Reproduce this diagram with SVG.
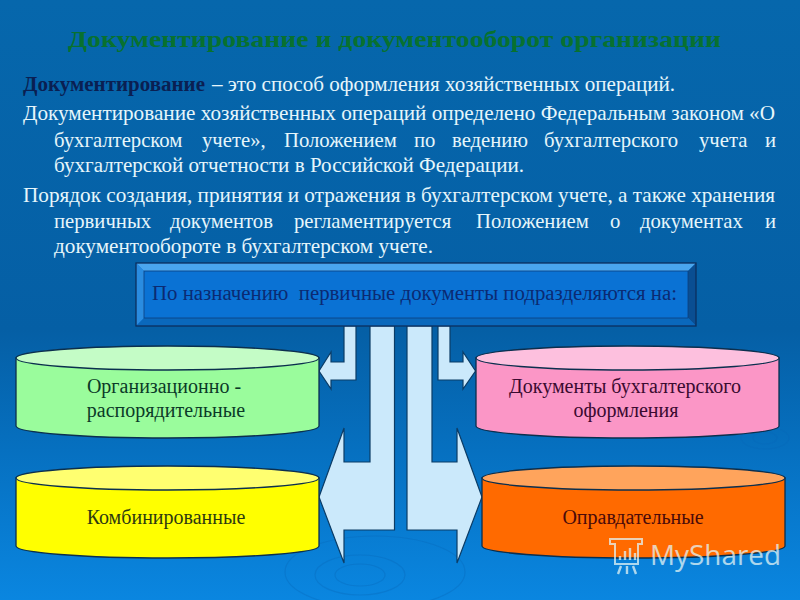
<svg xmlns="http://www.w3.org/2000/svg" width="800" height="600" viewBox="0 0 800 600">
<style>
text{font-family:"Liberation Serif","Times New Roman",serif}
.b{font-size:20.7px;fill:#e6f6fb}
.c{font-size:20px;text-anchor:middle}
.bd{stroke:#0b2f4e;stroke-width:1.3}
.ar{fill:#cbe9fb;stroke:#0b3c66;stroke-width:1.2;stroke-linejoin:miter}
.rp{fill:none;stroke:#0a68b8;stroke-width:1.2;opacity:.35}
</style>
<defs>
<linearGradient id="bg" x1="0" y1="0" x2="0" y2="1">
<stop offset="0" stop-color="#0667ac"/><stop offset=".55" stop-color="#055fa5"/><stop offset=".75" stop-color="#0670c0"/><stop offset="1" stop-color="#0a86e0"/>
</linearGradient>
</defs>
<rect width="800" height="600" fill="url(#bg)"/>
<g id="ripples">
<ellipse class="rp" cx="360" cy="575" rx="45" ry="20"/><ellipse class="rp" cx="360" cy="575" rx="25" ry="11"/><ellipse class="rp" cx="375" cy="572" rx="90" ry="36"/>
<ellipse class="rp" cx="765" cy="438" rx="24" ry="11"/><ellipse class="rp" cx="765" cy="438" rx="12" ry="6"/>
</g>
<text x="68" y="47" font-size="24" font-weight="bold" fill="#08712f" textLength="653" lengthAdjust="spacingAndGlyphs">Документирование и документооборот организации</text>
<g id="body-text">
<text x="23" y="91" font-size="20.5" font-weight="bold" fill="#0a1f52" textLength="182" lengthAdjust="spacingAndGlyphs">Документирование</text>
<text class="b" x="212" y="91" textLength="463" lengthAdjust="spacingAndGlyphs">– это способ оформления хозяйственных операций.</text>
<text class="b" x="23" y="120" textLength="752" lengthAdjust="spacingAndGlyphs">Документирование хозяйственных операций определено Федеральным законом «О</text>
<text class="b" y="147"><tspan x="54">бухгалтерском</tspan><tspan x="202">учете»,</tspan><tspan x="284">Положением</tspan><tspan x="414">по</tspan><tspan x="452">ведению</tspan><tspan x="544">бухгалтерского</tspan><tspan x="699">учета</tspan><tspan x="765">и</tspan></text>
<text class="b" x="54" y="172" textLength="470" lengthAdjust="spacingAndGlyphs">бухгалтерской отчетности в Российской Федерации.</text>
<text class="b" x="23" y="202" textLength="752" lengthAdjust="spacingAndGlyphs">Порядок создания, принятия и отражения в бухгалтерском учете, а также хранения</text>
<text class="b" y="228"><tspan x="54">первичных</tspan><tspan x="170">документов</tspan><tspan x="294">регламентируется</tspan><tspan x="476">Положением</tspan><tspan x="610">о</tspan><tspan x="640">документах</tspan><tspan x="765">и</tspan></text>
<text class="b" x="54" y="253" textLength="379" lengthAdjust="spacingAndGlyphs">документообороте в бухгалтерском учете.</text>
</g>
<g id="connectors">
<path class="ar" d="M356 326V380H331V389L319 371L331 352V362H344V326Z"/>
<path class="ar" d="M438 326V380H463V389L475.5 371L463 352V362H450V326Z"/>
<path class="ar" d="M394.5 326V530H344V563L319 497L344 428V462H370V326Z"/>
<path class="ar" d="M407 326V530H457V563L482 497L457 428V462H432V326Z"/>
</g>
<g id="banner">
<rect x="136" y="263" width="560" height="63" fill="#0a72d4"/>
<path d="M136 263H696L688 271H144Z" fill="#4aa6ee"/>
<path d="M136 263L144 271V318L136 326Z" fill="#2a8ce0"/>
<path d="M696 263L688 271V318L696 326Z" fill="#0a4e92"/>
<path d="M136 326L144 318H688L696 326Z" fill="#0a68bc"/>
<rect x="136" y="263" width="560" height="63" fill="none" stroke="#0b2f5e" stroke-width="1.3"/>
<rect x="144" y="271" width="544" height="47" fill="none" stroke="#0b3f7e" stroke-width=".8"/>
<text x="152" y="300" font-size="20.5" fill="#0b2a72" textLength="525" lengthAdjust="spacingAndGlyphs" xml:space="preserve">По назначению  первичные документы подразделяются на:</text>
</g>
<g id="node-green">
<path class="bd" fill="#9afc9c" d="M16 358V426A151.5 12 0 0 0 319 426V358Z"/>
<ellipse class="bd" cx="167.5" cy="358" rx="151.5" ry="12" fill="#c4fcc6"/>
<text class="c" fill="#0b3a28" x="164" y="393">Организационно -</text>
<text class="c" fill="#0b3a28" x="166" y="417">распорядительные</text>
</g>
<g id="node-pink">
<path class="bd" fill="#fb96c6" d="M476 358V426A151.5 12 0 0 0 779 426V358Z"/>
<ellipse class="bd" cx="627.5" cy="358" rx="151.5" ry="12" fill="#fdc0de"/>
<text class="c" fill="#3a0a30" x="625" y="393">Документы бухгалтерского</text>
<text class="c" fill="#3a0a30" x="626" y="417">оформления</text>
</g>
<g id="node-yellow">
<path class="bd" fill="#ffff00" d="M16 478V546A151.5 12 0 0 0 319 546V478Z"/>
<ellipse class="bd" cx="167.5" cy="478" rx="151.5" ry="12" fill="#ffff70"/>
<text class="c" fill="#2e3a10" x="166" y="524">Комбинированные</text>
</g>
<g id="node-orange">
<path class="bd" fill="#ff6a00" d="M482 478V546A151.5 12 0 0 0 785 546V478Z"/>
<ellipse class="bd" cx="633.5" cy="478" rx="151.5" ry="12" fill="#ffa45c"/>
<text class="c" fill="#4a0a0a" x="633" y="524">Оправдательные</text>
</g>
<g id="watermark" opacity=".75">
<path d="M610 539H642V544H638V564H615V544H610Z" fill="none" stroke="#e4f4f4" stroke-width="2"/>
<path d="M620 560V556M625 560V551M630 560V548M635 560V553M621 566L618 574M627 566V574M633 566L636 574" stroke="#e4f4f4" stroke-width="2.4" fill="none"/>
<text x="650" y="565" font-size="28" fill="#e4f4f4" style="font-family:'Open Sans','Noto Sans',sans-serif" textLength="131" lengthAdjust="spacingAndGlyphs">MyShared</text>
</g>
</svg>
